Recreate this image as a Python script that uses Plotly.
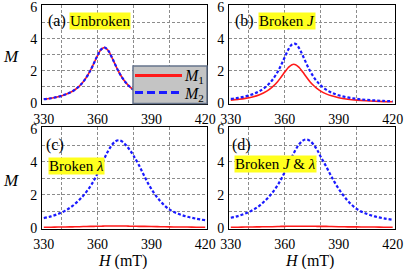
import plotly.graph_objects as go

# ---------------- data ----------------
H = [330, 334, 338, 342, 346, 350, 353, 356, 358, 360, 362, 364, 366, 368, 370,
     372, 374, 376, 378, 380, 383, 386, 390, 395, 400, 405, 410, 415, 420]

# (a) Unbroken
M1_a = [0.24, 0.30, 0.39, 0.53, 0.73, 1.07, 1.47, 2.03, 2.49, 2.97, 3.34, 3.45, 3.25, 2.83, 2.35,
        1.90, 1.53, 1.24, 1.01, 0.83, 0.64, 0.50, 0.38, 0.27, 0.21, 0.16, 0.13, 0.11, 0.09]
M2_a = [0.24, 0.30, 0.39, 0.53, 0.73, 1.07, 1.47, 2.03, 2.49, 2.97, 3.34, 3.45, 3.25, 2.83, 2.35,
        1.90, 1.53, 1.24, 1.01, 0.83, 0.64, 0.50, 0.38, 0.27, 0.21, 0.16, 0.13, 0.11, 0.09]

# (b) Broken J
M1_b = [0.18, 0.23, 0.29, 0.38, 0.52, 0.74, 0.99, 1.33, 1.62, 1.93, 2.21, 2.39, 2.39, 2.21, 1.93,
        1.62, 1.33, 1.09, 0.90, 0.74, 0.57, 0.45, 0.33, 0.24, 0.18, 0.14, 0.11, 0.09, 0.08]
M2_b = [0.26, 0.32, 0.41, 0.54, 0.74, 1.06, 1.42, 1.93, 2.37, 2.86, 3.33, 3.64, 3.68, 3.41, 2.96,
        2.46, 2.01, 1.63, 1.33, 1.10, 0.83, 0.65, 0.48, 0.35, 0.26, 0.20, 0.16, 0.13, 0.11]

# (c) Broken lambda
M1_c = [0.05, 0.05, 0.06, 0.06, 0.07, 0.08, 0.09, 0.10, 0.10, 0.11, 0.11, 0.12, 0.12, 0.12, 0.12,
        0.12, 0.12, 0.12, 0.11, 0.11, 0.10, 0.10, 0.09, 0.08, 0.07, 0.06, 0.06, 0.05, 0.05]
M2_c = [0.60, 0.70, 0.85, 1.05, 1.33, 1.72, 2.08, 2.52, 2.88, 3.30, 3.78, 4.25, 4.68, 5.02, 5.24,
        5.30, 5.20, 4.98, 4.70, 4.38, 3.80, 3.15, 2.35, 1.62, 1.12, 0.86, 0.68, 0.56, 0.47]

# (d) Broken J & lambda
M1_d = [0.05, 0.05, 0.06, 0.06, 0.07, 0.08, 0.08, 0.09, 0.10, 0.10, 0.11, 0.11, 0.11, 0.11, 0.11,
        0.11, 0.11, 0.11, 0.10, 0.10, 0.10, 0.09, 0.08, 0.07, 0.07, 0.06, 0.06, 0.05, 0.05]
M2_d = [0.62, 0.72, 0.87, 1.07, 1.35, 1.75, 2.12, 2.58, 2.95, 3.38, 3.84, 4.30, 4.72, 5.06, 5.28,
        5.35, 5.26, 5.04, 4.72, 4.30, 3.72, 3.10, 2.36, 1.65, 1.15, 0.88, 0.70, 0.58, 0.50]

x_ticks = [330, 360, 390, 420]
y_ticks = [0, 2, 4, 6]
x_grid = [340, 360, 380, 400]
y_grid = [1, 2, 3, 4, 5]

panel_tags = ["(a)", "(b)", "(c)", "(d)"]
panel_names = ["Unbroken", "Broken <i>J</i>", "Broken <i>λ</i>", "Broken <i>J</i> &amp; <i>λ</i>"]
legend_names = ["<i>M</i><sub>1</sub>", "<i>M</i><sub>2</sub>"]

# ---------------- layout helpers ----------------
W, HT = 406, 269
SERIF = "Liberation Serif"
RED = "#ff1a1a"
BLUE = "#1a1aff"


def fx(p):
    return p / W


def fy(p):
    return 1 - p / HT


x_doms = [[fx(42), fx(207)], [fx(229), fx(394.5)]]
y_doms = [[fy(104), fy(5)], [fy(229), fy(127)]]

fig = go.Figure()

series = [(M1_a, M2_a), (M1_b, M2_b), (M1_c, M2_c), (M1_d, M2_d)]
for i, (m1, m2) in enumerate(series):
    sfx = "" if i == 0 else str(i + 1)
    fig.add_trace(go.Scatter(x=H, y=m1, mode="lines", line=dict(color=RED, width=1.6, shape="spline"),
                             name=legend_names[0], showlegend=False,
                             xaxis="x" + sfx, yaxis="y" + sfx))
    fig.add_trace(go.Scatter(x=H, y=m2, mode="lines",
                             line=dict(color=BLUE, width=2.2, dash="3px,2px", shape="spline"),
                             name=legend_names[1], showlegend=False,
                             xaxis="x" + sfx, yaxis="y" + sfx))

layout = dict(
    width=W, height=HT, margin=dict(l=0, r=0, t=0, b=0, autoexpand=False),
    paper_bgcolor="white", plot_bgcolor="white", showlegend=False,
    font=dict(family=SERIF, size=14, color="black"),
)

for i in range(4):
    r, c = divmod(i, 2)
    sfx = "" if i == 0 else str(i + 1)
    layout["xaxis" + sfx] = dict(
        domain=x_doms[c], anchor="y" + sfx, range=[329, 421], automargin=False,
        tickmode="array", tickvals=x_ticks, showgrid=False, zeroline=False,
        showline=True, mirror=True, linecolor="black", linewidth=1, ticks="",
        tickfont=dict(family=SERIF, size=14), ticklabelstandoff=2, ticklabeloverflow="allow",
        minor=dict(tickmode="array", tickvals=x_grid, showgrid=True, gridcolor="#8c8c8c",
                   griddash="3px,2px", gridwidth=1, ticks=""),
    )
    layout["yaxis" + sfx] = dict(
        domain=y_doms[r], anchor="x" + sfx, range=[-0.06, 6.1], automargin=False,
        tickmode="array", tickvals=y_ticks, showgrid=False, zeroline=False,
        showline=True, mirror=True, linecolor="black", linewidth=1, ticks="",
        tickfont=dict(family=SERIF, size=14), ticklabelstandoff=1, ticklabeloverflow="allow",
        minor=dict(tickmode="array", tickvals=y_grid, showgrid=True, gridcolor="#8c8c8c",
                   griddash="3px,2px", gridwidth=1, ticks=""),
    )

fig.update_layout(**layout)


def note(text, xp, yp, size=16, **kw):
    fig.add_annotation(text=text, x=fx(xp), y=fy(yp), xref="paper", yref="paper",
                       xanchor="center", yanchor="middle", showarrow=False,
                       font=dict(family=SERIF, size=size, color="black"), **kw)


# panel labels
tag_pos = [(57, 21.5), (244, 21.5), (54.5, 145), (241, 144.5)]
name_pos = [(99.5, 21), (286.5, 21), (76.5, 165.5), (275.5, 163.5)]
for i in range(4):
    note(panel_tags[i], *tag_pos[i], size=16)
    note(panel_names[i], *name_pos[i], size=15, bgcolor="#ffff1e", borderpad=0)

# axis titles
for yp in (56, 180):
    note("<i>M</i>", 11, yp, size=17)
for xp in (122.5, 309):
    note("<i>H</i> (mT)", xp, 260.5)

# legend box (panel a), drawn in paper coordinates
fig.add_shape(type="rect", xref="paper", yref="paper", x0=fx(133), x1=fx(207), y0=fy(103.5), y1=fy(66),
              fillcolor="#c4c4c4", line=dict(color="#66748c", width=1.5), layer="above")
fig.add_shape(type="line", xref="paper", yref="paper", x0=fx(135), x1=fx(182), y0=fy(75.5), y1=fy(75.5),
              line=dict(color=RED, width=3), layer="above")
fig.add_shape(type="line", xref="paper", yref="paper", x0=fx(135), x1=fx(182), y0=fy(92.5), y1=fy(92.5),
              line=dict(color=BLUE, width=3, dash="8px,4px"), layer="above")
note(legend_names[0], 194, 77, size=16)
note(legend_names[1], 194, 94, size=16)

fig.write_html("out.html", post_script="document.body.style.margin='0';",
               config={"displayModeBar": False})
